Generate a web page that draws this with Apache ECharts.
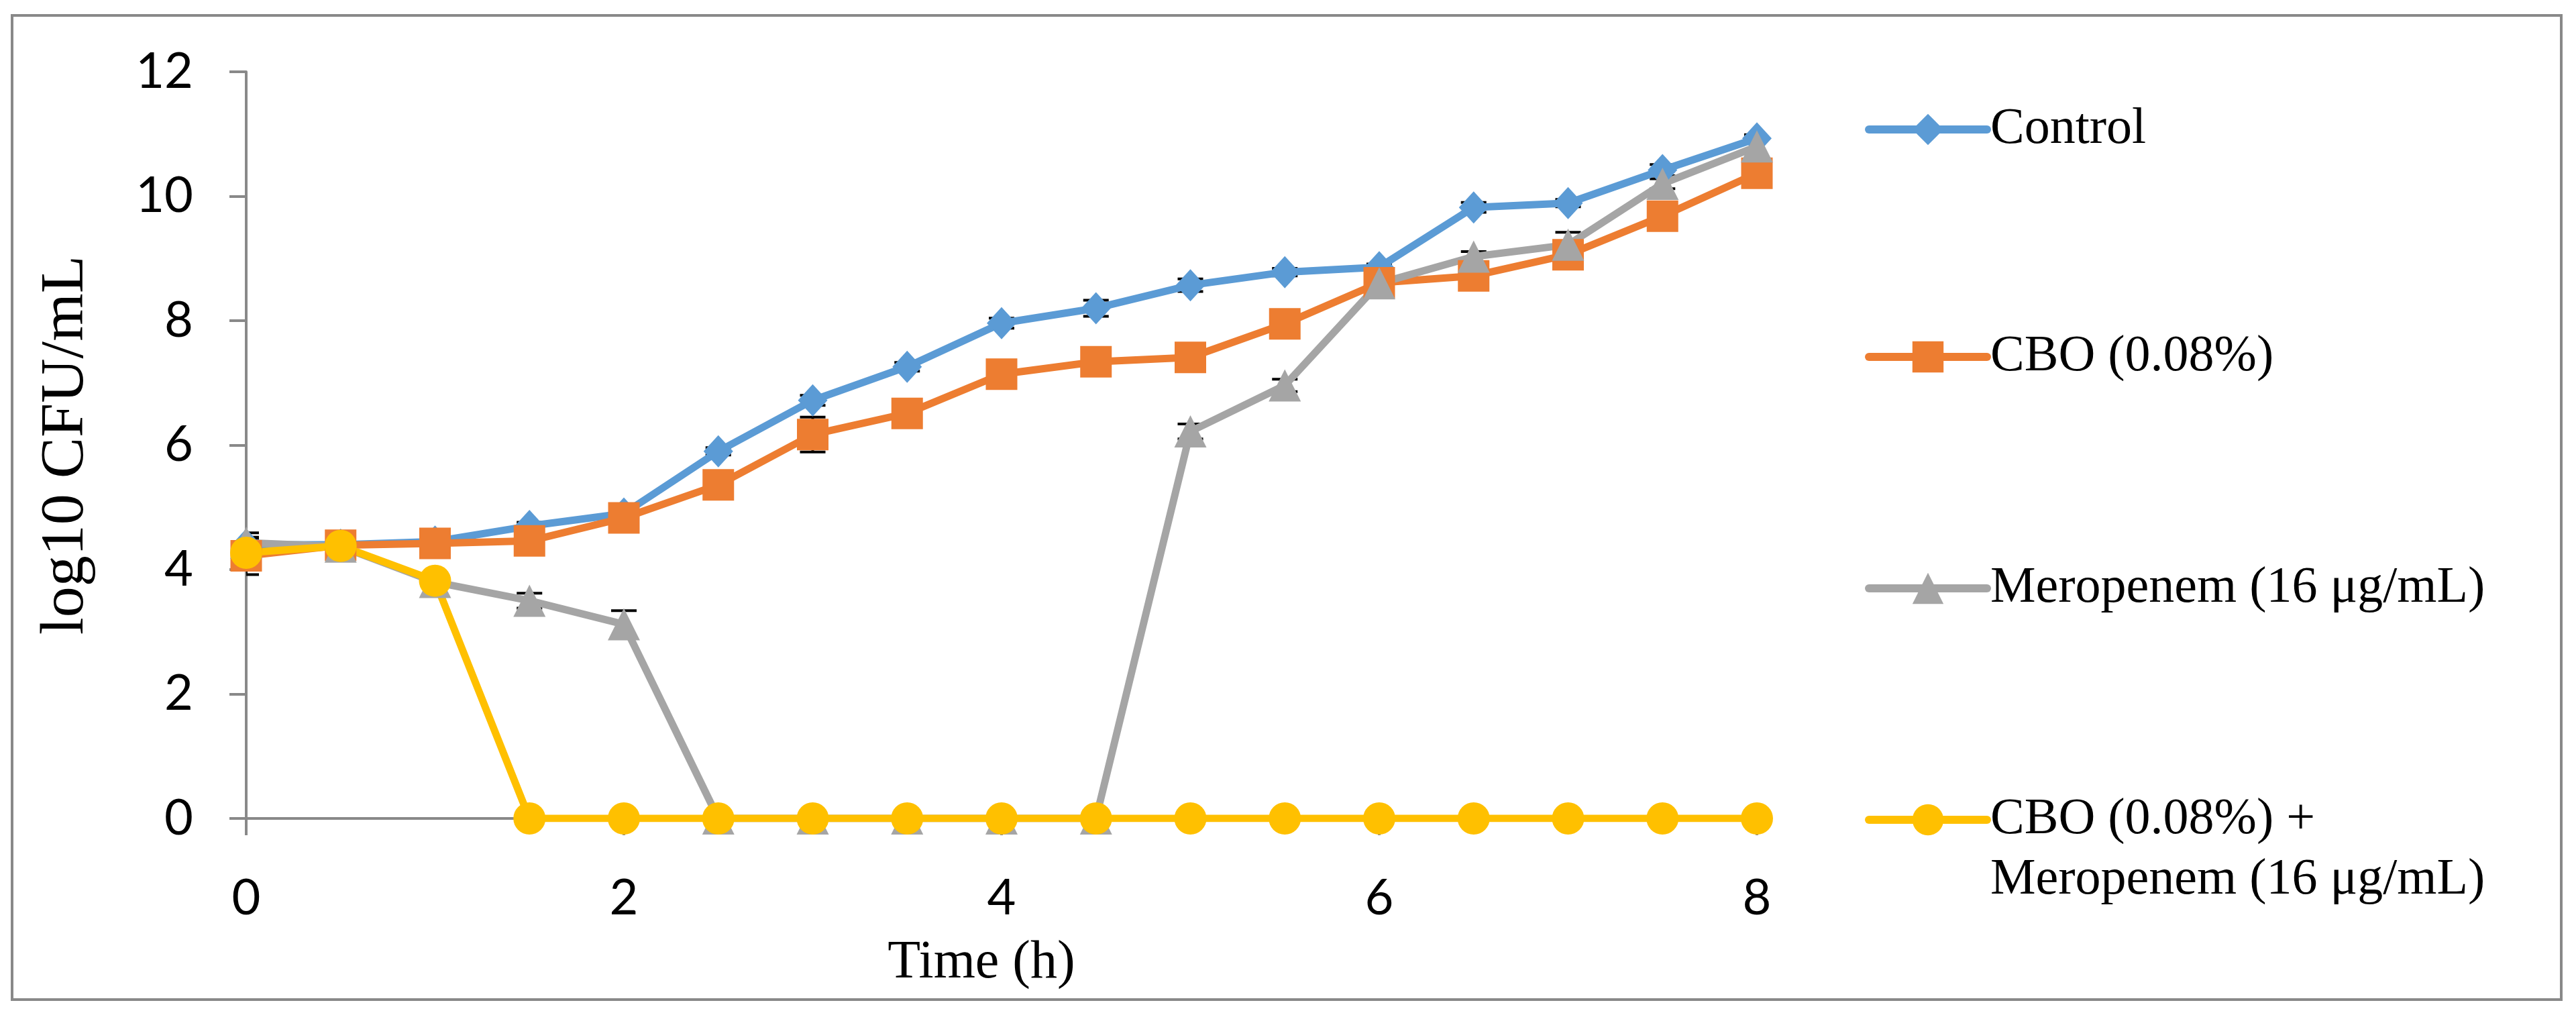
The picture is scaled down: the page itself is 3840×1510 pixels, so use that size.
<!DOCTYPE html>
<html>
<head>
<meta charset="utf-8">
<script src="https://cdn.jsdelivr.net/npm/echarts@6/dist/echarts.min.js"></script>
<style>
  html, body { margin: 0; padding: 0; background: #fff; }
  #chart { width: 3840px; height: 1510px; }
</style>
</head>
<body>
<div id="chart"></div>
<script>
// 数据 (log10 CFU/mL)
var times = [0, 0.5, 1, 1.5, 2, 2.5, 3, 3.5, 4, 4.5, 5, 5.5, 6, 6.5, 7, 7.5, 8];
var xTicks = [0, 2, 4, 6, 8];
var yTicks = [0, 2, 4, 6, 8, 10, 12];

var seriesNames = ['Control', 'CBO (0.08%)', 'Meropenem (16 μg/mL)', 'CBO (0.08%) + Meropenem (16 μg/mL)'];

var control = [4.40, 4.40, 4.45, 4.70, 4.90, 5.90, 6.72, 7.26, 7.96, 8.20, 8.57, 8.78, 8.86, 9.82, 9.89, 10.42, 10.93];
var cbo     = [4.22, 4.39, 4.42, 4.46, 4.83, 5.36, 6.17, 6.51, 7.14, 7.34, 7.41, 7.95, 8.61, 8.72, 9.06, 9.68, 10.37];
var mero    = [4.43, 4.37, 3.80, 3.50, 3.12, 0, 0, 0, 0, 0, 6.22, 6.96, 8.60, 9.03, 9.22, 10.20, 10.80];
var combo   = [4.27, 4.38, 3.82, 0, 0, 0, 0, 0, 0, 0, 0, 0, 0, 0, 0, 0, 0];

// error bars (SD)
var controlErr = [0.10, 0.05, 0.05, 0.06, 0.05, 0.06, 0.08, 0.07, 0.08, 0.13, 0.10, 0.06, 0.05, 0.08, 0.06, 0.09, 0.06];
var cboErr     = [0.30, 0.05, 0.05, 0.05, 0.05, 0.06, 0.28, 0.06, 0.06, 0.05, 0.05, 0.06, 0.05, 0.06, 0.06, 0.06, 0.05];
var meroErr    = [0.16, 0.05, 0.06, 0.12, 0.22, 0, 0, 0, 0, 0, 0.12, 0.10, 0.06, 0.08, 0.20, 0.08, 0.07];
var comboErr   = [0.05, 0.04, 0.05, 0, 0, 0, 0, 0, 0, 0, 0, 0, 0, 0, 0, 0, 0];

var colors = ['#5B9BD5', '#ED7D31', '#A5A5A5', '#FFC000'];
var symbols = ['diamond', 'rect', 'triangle', 'circle'];
var symbolSizes = [[44, 48], 47, 48, 48];

var axisGray = '#898989';
var serif = '"Liberation Serif", "Times New Roman", serif';
var sans = 'Lato, "Noto Sans", sans-serif';

function pairs(ys) {
    return times.map(function (t, i) { return [t, ys[i]]; });
}
function errTriples(ys, es) {
    return times.map(function (t, i) { return [t, ys[i], es[i]]; });
}

// 误差线
function renderErr(params, api) {
    var x = api.value(0), y = api.value(1), e = api.value(2);
    if (!e) return { type: 'group', children: [] };
    var top = api.coord([x, y + e]);
    var bot = api.coord([x, y - e]);
    var half = 19;
    var st = { stroke: '#000', lineWidth: 4 };
    return {
        type: 'group',
        children: [
            { type: 'line', shape: { x1: top[0], y1: top[1], x2: bot[0], y2: bot[1] }, style: st },
            { type: 'line', shape: { x1: top[0] - half, y1: top[1], x2: top[0] + half, y2: top[1] }, style: st },
            { type: 'line', shape: { x1: bot[0] - half, y1: bot[1], x2: bot[0] + half, y2: bot[1] }, style: st }
        ]
    };
}

var lineData = [control, cbo, mero, combo];
var errData = [controlErr, cboErr, meroErr, comboErr];

var series = [];
lineData.forEach(function (ys, i) {
    series.push({
        name: seriesNames[i] + ' err',
        type: 'custom',
        renderItem: renderErr,
        data: errTriples(ys, errData[i]),
        clip: true,
        z: 1,
        silent: true
    });
});
lineData.forEach(function (ys, i) {
    series.push({
        name: seriesNames[i],
        type: 'line',
        data: pairs(ys),
        symbol: symbols[i],
        symbolSize: symbolSizes[i],
        showAllSymbol: true,
        color: colors[i],
        lineStyle: { width: 11, color: colors[i], cap: 'round', join: 'round' },
        itemStyle: { color: colors[i] },
        z: 2
    });
});

// 图例: one legend box per entry
var legendTops = [148, 487, 832, 1087];
var legends = seriesNames.map(function (n, i) {
    return {
        data: [n],
        orient: 'vertical',
        left: 2780,
        top: legendTops[i],
        padding: 0,
        itemWidth: 176,
        itemHeight: 58,
        selectedMode: false,
        lineStyle: { width: 12 },
        formatter: i === 3 ? '\nCBO (0.08%) +\nMeropenem (16 μg/mL)' : '{name}',
        textStyle: { fontFamily: serif, fontSize: 76, color: '#000', lineHeight: 90 }
    };
});

var myChart = echarts.init(document.getElementById('chart'));
var option = {
    backgroundColor: '#fff',
    animation: false,
    graphic: [{
        type: 'rect',
        shape: { x: 18, y: 23, width: 3800, height: 1467 },
        style: { fill: 'none', stroke: axisGray, lineWidth: 4 },
        z: -1
    }],
    legend: legends,
    grid: { left: 367, right: 1221, top: 107, bottom: 290 },
    xAxis: {
        type: 'value',
        min: xTicks[0],
        max: xTicks[xTicks.length - 1],
        interval: 2,
        name: 'Time (h)',
        nameLocation: 'middle',
        nameGap: 176,
        nameTextStyle: { fontFamily: serif, fontSize: 80, color: '#000', padding: [0, 60, 0, 0] },
        axisLine: { show: true, lineStyle: { color: axisGray, width: 4 } },
        axisTick: { show: true, length: 25, lineStyle: { color: axisGray, width: 4 } },
        axisLabel: { margin: 82, fontFamily: sans, fontSize: 74, color: '#000' },
        splitLine: { show: false }
    },
    yAxis: {
        type: 'value',
        min: yTicks[0],
        max: yTicks[yTicks.length - 1],
        interval: 2,
        name: 'log10 CFU/mL',
        nameLocation: 'middle',
        nameGap: 222,
        nameTextStyle: { fontFamily: serif, fontSize: 92, color: '#000' },
        axisLine: { show: true, lineStyle: { color: axisGray, width: 4 } },
        axisTick: { show: true, length: 25, lineStyle: { color: axisGray, width: 4 } },
        axisLabel: { margin: 79, fontFamily: sans, fontSize: 74, color: '#000' },
        splitLine: { show: false }
    },
    series: series
};
myChart.setOption(option);
</script>
</body>
</html>
